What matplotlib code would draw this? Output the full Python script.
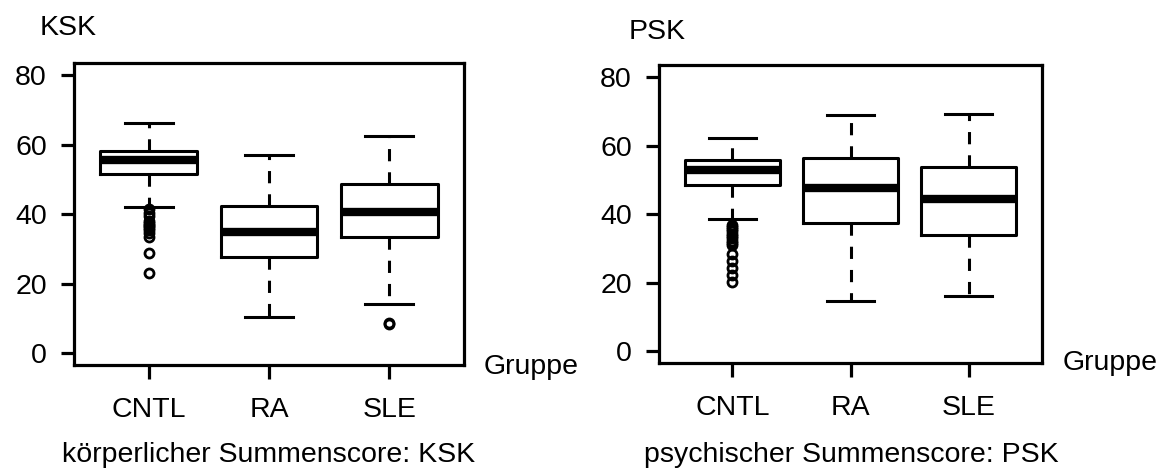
import matplotlib
matplotlib.use("Agg")
import matplotlib.pyplot as plt

plt.rcParams["font.family"] = ["Liberation Sans", "DejaVu Sans"]

groups = ["CNTL", "RA", "SLE"]

# KSK (koerperlicher Summenscore): lower whisker, Q1, median, Q3, upper whisker
ksk_whislo = [42.1, 10.5, 14.3]
ksk_q1 = [51.7, 27.6, 33.6]
ksk_med = [55.7, 35.0, 40.6]
ksk_q3 = [58.3, 42.3, 48.7]
ksk_whishi = [66.3, 57.2, 62.5]
ksk_fliers = [
    [41.5, 40.5, 39.5, 38.0, 37.5, 37.0, 36.5, 36.0, 35.5, 34.5, 33.5, 29.0, 23.0],
    [],
    [8.6, 8.3],
]

# PSK (psychischer Summenscore)
psk_whislo = [38.5, 14.8, 16.1]
psk_q1 = [48.6, 37.4, 34.1]
psk_med = [52.9, 47.8, 44.6]
psk_q3 = [55.9, 56.4, 53.8]
psk_whishi = [62.3, 69.0, 69.3]
psk_fliers = [
    [37.0, 36.3, 35.6, 35.0, 34.3, 33.6, 33.0, 32.3, 31.6, 31.0, 28.3, 26.3, 24.2, 22.2, 20.3],
    [],
    [],
]

yticks = [0, 20, 40, 60, 80]
FS = 20.5


def make_stats(lo, q1, med, q3, hi, fliers):
    stats = []
    for i in range(len(groups)):
        stats.append({
            "label": groups[i], "whislo": lo[i], "q1": q1[i], "med": med[i],
            "q3": q3[i], "whishi": hi[i], "fliers": fliers[i],
        })
    return stats


def draw_panel(ax, stats):
    ax.bxp(
        stats, positions=[1, 2, 3], widths=0.8, capwidths=0.4,
        boxprops=dict(color="black", linewidth=2.2),
        medianprops=dict(color="black", linewidth=6, solid_capstyle="butt"),
        whiskerprops=dict(color="black", linewidth=2.2, linestyle=(0, (4, 3.6))),
        capprops=dict(color="black", linewidth=2.2),
        flierprops=dict(marker="o", markerfacecolor="none", markeredgecolor="black",
                        markersize=6.5, markeredgewidth=2),
    )
    ax.set_xlim(0.38, 3.62)
    ax.set_ylim(-3.4, 83.6)
    ax.set_yticks(yticks)
    ax.set_xticks([1, 2, 3])
    ax.set_xticklabels(groups)
    for s in ax.spines.values():
        s.set_linewidth(2.3)
    ax.tick_params(axis="y", length=9.5, width=2.3, pad=10, labelsize=FS)
    ax.tick_params(axis="x", length=10, width=2.3, pad=13, labelsize=FS)


fig = plt.figure(figsize=(11.67, 4.72), dpi=100)

ax1 = fig.add_axes([74 / 1167, 107 / 472, 390 / 1167, 302 / 472])
draw_panel(ax1, make_stats(ksk_whislo, ksk_q1, ksk_med, ksk_q3, ksk_whishi, ksk_fliers))

ax2 = fig.add_axes([659 / 1167, 109 / 472, 383 / 1167, 298 / 472])
draw_panel(ax2, make_stats(psk_whislo, psk_q1, psk_med, psk_q3, psk_whishi, psk_fliers))

fig.text(40 / 1167, 1 - 28 / 472, "KSK", fontsize=FS, va="center", ha="left")
fig.text(629 / 1167, 1 - 32 / 472, "PSK", fontsize=FS, va="center", ha="left")
fig.text(484 / 1167, 1 - 367 / 472, "Gruppe", fontsize=FS, va="center", ha="left")
fig.text(1063 / 1167, 1 - 363 / 472, "Gruppe", fontsize=FS, va="center", ha="left")
fig.text(62 / 1167, 1 - 455 / 472, "körperlicher Summenscore: KSK", fontsize=FS, va="center", ha="left")
fig.text(644 / 1167, 1 - 455 / 472, "psychischer Summenscore: PSK", fontsize=FS, va="center", ha="left")

fig.savefig("out.png", dpi=100)
